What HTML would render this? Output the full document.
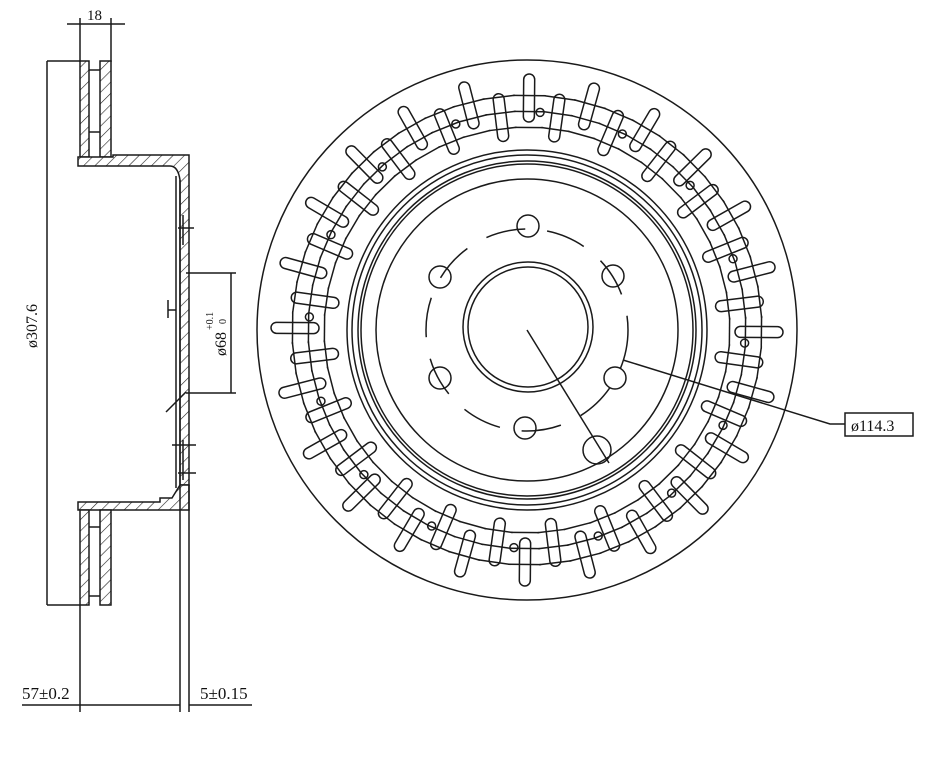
<!DOCTYPE html>
<html><head><meta charset="utf-8"><style>
html,body{margin:0;padding:0;background:#fff;width:928px;height:760px;overflow:hidden}
svg{display:block}
text{font-family:"Liberation Serif",serif;fill:#111}
</style></head><body>
<svg id="s" width="928" height="760" viewBox="0 0 928 760" xmlns="http://www.w3.org/2000/svg">
<defs>
<pattern id="h" patternUnits="userSpaceOnUse" width="8" height="8" patternTransform="rotate(45)">
<rect width="8" height="8" fill="#fff"/><line x1="0" y1="0" x2="0" y2="8" stroke="#222" stroke-width="1.2"/>
</pattern>
</defs>
<g stroke="#1a1a1a" stroke-width="1.5" fill="none">
<line x1="80" y1="18" x2="80" y2="62"/><line x1="111" y1="18" x2="111" y2="62"/>
<line x1="67" y1="24" x2="125" y2="24"/>
<line x1="47" y1="61" x2="80" y2="61"/><line x1="47" y1="605" x2="80" y2="605"/>
<line x1="47" y1="61" x2="47" y2="605"/>
<path d="M80 61 H89 V157 H80 Z" fill="url(#h)"/>
<path d="M100 61 H111 V157 H100 Z" fill="url(#h)"/>
<line x1="89" y1="70" x2="100" y2="70"/><line x1="89" y1="132" x2="100" y2="132"/>
<path d="M78 157 H113 V155 H189 V485 H180 V180 Q178 166 170 166 H78 Z" fill="url(#h)"/>
<path d="M78 502 H160 V498 H172 L180 485 H189 V510 H78 Z" fill="url(#h)"/>
<path d="M80 510 H89 V605 H80 Z" fill="url(#h)"/>
<path d="M100 510 H111 V605 H100 Z" fill="url(#h)"/>
<line x1="89" y1="527" x2="100" y2="527"/><line x1="89" y1="596" x2="100" y2="596"/>
<line x1="176" y1="176" x2="176" y2="488"/>
<line x1="180" y1="180" x2="180" y2="712"/>
<line x1="189" y1="485" x2="189" y2="712"/>
<line x1="80" y1="605" x2="80" y2="712"/>
<line x1="178" y1="228" x2="194" y2="228"/><line x1="183" y1="215" x2="183" y2="245"/>
<line x1="172" y1="445" x2="196" y2="445"/><line x1="178" y1="473" x2="196" y2="473"/>
<line x1="183" y1="440" x2="183" y2="480"/>
<line x1="168" y1="300" x2="168" y2="318"/><line x1="168" y1="310" x2="176" y2="310"/>
<line x1="166" y1="412" x2="186" y2="392"/>
<line x1="186" y1="273" x2="236" y2="273"/><line x1="186" y1="393" x2="236" y2="393"/>
<line x1="231" y1="273" x2="231" y2="393"/>
<line x1="22" y1="705" x2="180" y2="705"/><line x1="189" y1="705" x2="252" y2="705"/>
<circle cx="527" cy="330" r="270"/>
<circle cx="527" cy="330" r="180"/>
<circle cx="527" cy="330" r="175"/>
<circle cx="527" cy="330" r="169"/>
<circle cx="527" cy="330" r="166"/>
<circle cx="527" cy="330" r="151"/>
<circle cx="528" cy="327" r="65"/>
<circle cx="528" cy="327" r="60"/>
<circle cx="527" cy="330" r="101" stroke-dasharray="40 22"/>
<line x1="527" y1="330" x2="609" y2="463"/>
<circle cx="597" cy="450" r="14"/>
<polyline points="623,360 830,424 845,424"/>
<rect x="845" y="413" width="68" height="23"/>
<g id="holes"></g>
<g id="slots"></g>
</g>
<text x="87" y="20" font-size="15">18</text>
<text x="0" y="0" font-size="16" transform="translate(37,348) rotate(-90)">ø307.6</text>
<text x="0" y="0" font-size="16" transform="translate(226,356) rotate(-90)">ø68</text>
<text x="0" y="0" font-size="10" transform="translate(213,330) rotate(-90)">+0.1</text>
<text x="0" y="0" font-size="10" transform="translate(226,324) rotate(-90)">0</text>
<text x="22" y="699" font-size="17">57±0.2</text>
<text x="200" y="699" font-size="17">5±0.15</text>
<text x="851" y="431" font-size="16">ø114.3</text>
</svg>
<script>
var ns="http://www.w3.org/2000/svg",cx=527,cy=330;
var H=document.getElementById("holes");
[[528,226],[440,277],[440,378],[525,428],[615,378],[613,276]].forEach(function(p){
 var c=document.createElementNS(ns,"circle");c.setAttribute("cx",p[0]);c.setAttribute("cy",p[1]);c.setAttribute("r",11);H.appendChild(c);
});
var S=document.getElementById("slots");
var N=48;
for(var i=0;i<N;i++){
 var a=i*2*Math.PI/N, off=(i%2)?12:-6;
 var r1=190+off+6, r2=r1+48;
 var g=document.createElementNS(ns,"rect");
 var deg=a*180/Math.PI;
 g.setAttribute("x",r1);g.setAttribute("y",-5.5);g.setAttribute("width",r2-r1);g.setAttribute("height",11);
 g.setAttribute("rx",5.5);
 g.setAttribute("transform","translate("+cx+","+cy+") rotate("+(deg+8)+") ");
 S.appendChild(g);
 for(var k=0;k<3;k++){
  var rr=203+k*16, a1=a-0.06, a2=a+0.08;
  var l=document.createElementNS(ns,"line");
  l.setAttribute("x1",cx+rr*Math.cos(a1));l.setAttribute("y1",cy+rr*Math.sin(a1));
  l.setAttribute("x2",cx+rr*Math.cos(a2));l.setAttribute("y2",cy+rr*Math.sin(a2));
  S.appendChild(l);
 }
 if(i%3==0){var c=document.createElementNS(ns,"circle");var rr=218;
  c.setAttribute("cx",cx+rr*Math.cos(a+0.06));c.setAttribute("cy",cy+rr*Math.sin(a+0.06));c.setAttribute("r",4);S.appendChild(c);}
}
</script>
</body></html>
